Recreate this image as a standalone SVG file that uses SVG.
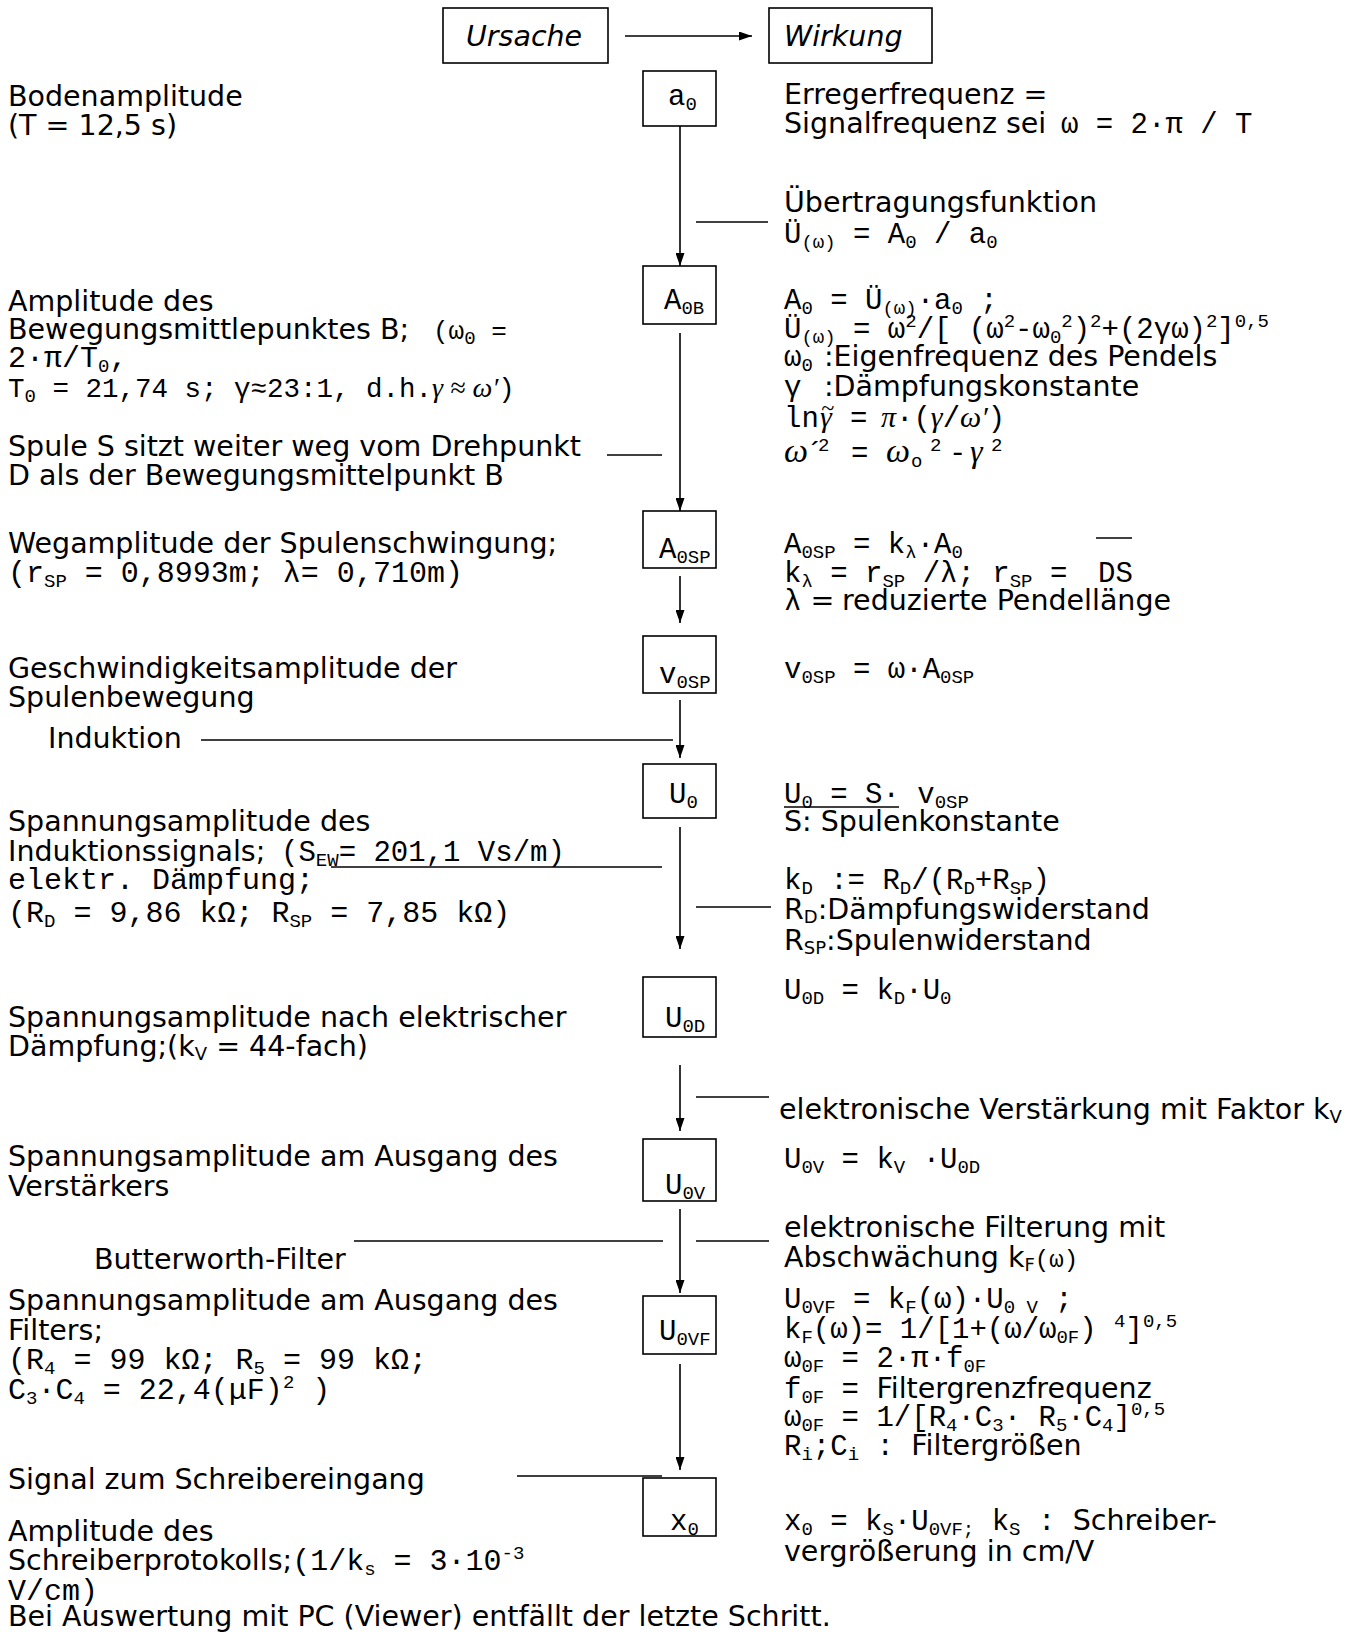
<svg xmlns="http://www.w3.org/2000/svg" width="1349" height="1635" viewBox="0 0 1349 1635" xml:space="preserve">
<style>
.s{font-family:"DejaVu Sans","Liberation Sans",sans-serif;font-size:28.5px;fill:#000}
.m{font-family:"Liberation Mono","Courier New",monospace;font-size:29px;fill:#000}
.ml{font-family:"Liberation Mono","Courier New",monospace;font-size:30px;fill:#000}
.i{font-style:italic}
.b{font-size:19px;baseline-shift:-5px}
.bs{font-size:18px;baseline-shift:-4px}
.p{font-size:19px;baseline-shift:11px}
.g{font-family:"Liberation Serif",serif;font-style:italic}
.box{fill:#fff;stroke:#000;stroke-width:1.6}
.ln{stroke:#000;stroke-width:1.6;fill:none}
</style>
<defs>
<marker id="ah" markerUnits="userSpaceOnUse" markerWidth="13" markerHeight="9" refX="13" refY="4.5" orient="auto"><path d="M0,0 L13,4.5 L0,9 z" fill="#000"/></marker>
</defs>
<g id="connectors">
<line class="ln" x1="625" y1="36" x2="752" y2="36" marker-end="url(#ah)"/>
<line class="ln" x1="680" y1="126" x2="680" y2="266" marker-end="url(#ah)"/>
<line class="ln" x1="680" y1="333" x2="680" y2="511" marker-end="url(#ah)"/>
<line class="ln" x1="680" y1="576" x2="680" y2="623" marker-end="url(#ah)"/>
<line class="ln" x1="680" y1="700" x2="680" y2="758" marker-end="url(#ah)"/>
<line class="ln" x1="680" y1="827" x2="680" y2="949" marker-end="url(#ah)"/>
<line class="ln" x1="680" y1="1065" x2="680" y2="1131" marker-end="url(#ah)"/>
<line class="ln" x1="680" y1="1209" x2="680" y2="1293" marker-end="url(#ah)"/>
<line class="ln" x1="680" y1="1364" x2="680" y2="1470" marker-end="url(#ah)"/>
<line class="ln" x1="696" y1="222" x2="768" y2="222"/>
<line class="ln" x1="607" y1="455" x2="662" y2="455"/>
<line class="ln" x1="201" y1="740" x2="673" y2="740"/>
<line class="ln" x1="331" y1="867" x2="662" y2="867"/>
<line class="ln" x1="696" y1="907" x2="771" y2="907"/>
<line class="ln" x1="696" y1="1097" x2="769" y2="1097"/>
<line class="ln" x1="354" y1="1241" x2="663" y2="1241"/>
<line class="ln" x1="696" y1="1241" x2="769" y2="1241"/>
<line class="ln" x1="517" y1="1476" x2="662" y2="1476"/>
</g>
<g id="node-ursache"><rect class="box" x="443" y="8" width="165" height="55"/><text class="s i" x="466" y="46">Ursache</text></g>
<g id="node-wirkung"><rect class="box" x="769" y="8" width="163" height="55"/><text class="s i" x="784" y="46">Wirkung</text></g>
<g id="node-a0"><rect class="box" x="643" y="71" width="73" height="55"/><text class="m" x="668" y="105">a<tspan class="b">0</tspan></text></g>
<g id="node-A0B"><rect class="box" x="643" y="266" width="73" height="58"/><text class="m" x="664" y="309">A<tspan class="b">0B</tspan></text></g>
<g id="node-A0SP"><rect class="box" x="643" y="511" width="73" height="57"/><text class="m" x="659" y="558">A<tspan class="b">0SP</tspan></text></g>
<g id="node-v0SP"><rect class="box" x="643" y="636" width="73" height="57"/><text class="m" x="659" y="683">v<tspan class="b">0SP</tspan></text></g>
<g id="node-U0"><rect class="box" x="643" y="764" width="73" height="54"/><text class="m" x="669" y="803">U<tspan class="b">0</tspan></text></g>
<g id="node-U0D"><rect class="box" x="643" y="977" width="73" height="60"/><text class="m" x="665" y="1027">U<tspan class="b">0D</tspan></text></g>
<g id="node-U0V"><rect class="box" x="643" y="1139" width="73" height="62"/><text class="m" x="665" y="1194">U<tspan class="b">0V</tspan></text></g>
<g id="node-U0VF"><rect class="box" x="643" y="1296" width="73" height="58"/><text class="m" x="659" y="1340">U<tspan class="b">0VF</tspan></text></g>
<g id="node-x0"><rect class="box" x="643" y="1478" width="73" height="58"/><text class="m" x="670" y="1530">x<tspan class="b">0</tspan></text></g>
<g id="left-texts">
<text class="s" x="8" y="106">Bodenamplitude</text>
<text class="s" x="8" y="135">(T = 12,5 s)</text>
<text class="s" x="8" y="311">Amplitude des</text>
<text x="8" y="339"><tspan class="s">Bewegungsmittlepunktes B;</tspan><tspan class="m" style="font-size:26px" x="433">(ω<tspan class="b">0</tspan> =</tspan></text>
<text class="ml" x="8" y="367">2·π/T<tspan class="b">0</tspan>,</text>
<text class="m" style="font-size:27.5px" x="8" y="397">T<tspan class="b">0</tspan> = 21,74 s; γ≈23:1, d.h.<tspan class="g" style="font-size:28px">γ ≈ ω′</tspan>)</text>
<text class="s" x="8" y="456">Spule S sitzt weiter weg vom Drehpunkt</text>
<text class="s" x="8" y="485">D als der Bewegungsmittelpunkt B</text>
<text class="s" x="8" y="553">Wegamplitude der Spulenschwingung;</text>
<text class="ml" x="8" y="582">(r<tspan class="b">SP</tspan> = 0,8993m; λ= 0,710m)</text>
<text class="s" x="8" y="678">Geschwindigkeitsamplitude der</text>
<text class="s" x="8" y="707">Spulenbewegung</text>
<text class="s" x="48" y="748">Induktion</text>
<text class="s" x="8" y="831">Spannungsamplitude des</text>
<text x="8" y="861"><tspan class="s">Induktionssignals;</tspan><tspan class="m" x="281">(S<tspan class="b">EW</tspan>= 201,1 Vs/m)</tspan></text>
<text class="ml" x="8" y="889">elektr. Dämpfung;</text>
<text class="ml" x="8" y="922">(R<tspan class="b">D</tspan> = 9,86 kΩ; R<tspan class="b">SP</tspan> = 7,85 kΩ)</text>
<text class="s" x="8" y="1027">Spannungsamplitude nach elektrischer</text>
<text class="s" x="8" y="1056">Dämpfung;(k<tspan class="bs">V</tspan> = 44-fach)</text>
<text class="s" x="8" y="1166">Spannungsamplitude am Ausgang des</text>
<text class="s" x="8" y="1196">Verstärkers</text>
<text class="s" x="94" y="1269">Butterworth-Filter</text>
<text class="s" x="8" y="1310">Spannungsamplitude am Ausgang des</text>
<text class="s" x="8" y="1340">Filters;</text>
<text class="ml" x="8" y="1369">(R<tspan class="b">4</tspan> = 99 kΩ; R<tspan class="b">5</tspan> = 99 kΩ;</text>
<text class="ml" x="8" y="1399"> C<tspan class="b">3</tspan>·C<tspan class="b">4</tspan> = 22,4(μF)<tspan class="p">2</tspan> )</text>
<text class="s" x="8" y="1489">Signal zum Schreibereingang</text>
<text class="s" x="8" y="1541">Amplitude des</text>
<text x="8" y="1570"><tspan class="s">Schreiberprotokolls;</tspan><tspan class="ml">(1/k<tspan class="b">s</tspan> = 3·10<tspan class="p">-3</tspan></tspan></text>
<text class="ml" x="8" y="1600">V/cm)</text>
<text class="s" x="8" y="1626">Bei Auswertung mit PC (Viewer) entfällt der letzte Schritt.</text>
</g>
<g id="right-texts">
<text class="s" x="784" y="104">Erregerfrequenz =</text>
<text x="784" y="133"><tspan class="s">Signalfrequenz sei</tspan><tspan class="m" x="1061">ω = 2·π / T</tspan></text>
<text class="s" x="784" y="212">Übertragungsfunktion</text>
<text class="m" x="784" y="243">Ü<tspan class="b">(ω)</tspan> = A<tspan class="b">0</tspan> / a<tspan class="b">0</tspan></text>
<text class="m" x="784" y="309">A<tspan class="b">0</tspan> = Ü<tspan class="b">(ω)</tspan>·a<tspan class="b">0</tspan> ;</text>
<text class="m" x="784" y="338">Ü<tspan class="b">(ω)</tspan> = ω<tspan class="p">2</tspan>/[ (ω<tspan class="p">2</tspan>-ω<tspan class="b">0</tspan><tspan class="p">2</tspan>)<tspan class="p">2</tspan>+(2γω)<tspan class="p">2</tspan>]<tspan class="p">0,5</tspan></text>
<text x="784" y="366"><tspan class="m">ω<tspan class="b">0</tspan></tspan><tspan class="s" x="824">:Eigenfrequenz des Pendels</tspan></text>
<text x="784" y="396"><tspan class="m">γ</tspan><tspan class="s" x="824">:Dämpfungskonstante</tspan></text>
<text x="784" y="427"><tspan class="m">ln</tspan><tspan class="g" font-size="30" x="820">γ</tspan><tspan class="m" x="850">=</tspan><tspan class="g" font-size="30" x="881">π</tspan><tspan class="m">·(</tspan><tspan class="g" font-size="30">γ</tspan><tspan class="m">/</tspan><tspan class="g" font-size="30">ω′</tspan><tspan class="m">)</tspan></text>
<text class="g" x="821" y="416" font-size="24">~</text>
<text x="784" y="462"><tspan class="g" font-size="34">ω</tspan><tspan class="m" x="806">´</tspan><tspan class="m p" x="818">2</tspan><tspan class="m" x="851">=</tspan><tspan class="g" font-size="34" x="886">ω</tspan><tspan class="m b" x="911">o</tspan><tspan class="m p" x="930">2</tspan><tspan class="m" x="949">-</tspan><tspan class="g" font-size="32" x="970">γ</tspan><tspan class="m p" x="991">2</tspan></text>
<text class="m" x="784" y="553">A<tspan class="b">0SP</tspan> = k<tspan class="b">λ</tspan>·A<tspan class="b">0</tspan></text>
<line class="ln" x1="1096" y1="538" x2="1132" y2="538"/>
<text class="m" x="784" y="582">k<tspan class="b">λ</tspan> = r<tspan class="b">SP</tspan> /λ;  r<tspan class="b">SP</tspan> = <tspan x="1098">DS</tspan></text>
<text x="784" y="610"><tspan class="m">λ</tspan><tspan class="s"> =</tspan><tspan class="s" x="842">reduzierte Pendellänge</tspan></text>
<text class="m" x="784" y="678">v<tspan class="b">0SP</tspan> = ω·A<tspan class="b">0SP</tspan></text>
<text class="m" x="784" y="803">U<tspan class="b">0</tspan> = S·  v<tspan class="b">0SP</tspan></text>
<line class="ln" x1="784" y1="807" x2="899" y2="807"/>
<text class="s" x="784" y="831">S: Spulenkonstante</text>
<text class="m" x="784" y="889">k<tspan class="b">D</tspan> := R<tspan class="b">D</tspan>/(R<tspan class="b">D</tspan>+R<tspan class="b">SP</tspan>)</text>
<text class="s" x="784" y="919">R<tspan class="bs">D</tspan>:Dämpfungswiderstand</text>
<text class="s" x="784" y="950">R<tspan class="bs">SP</tspan>:Spulenwiderstand</text>
<text class="m" x="784" y="999">U<tspan class="b">0D</tspan> = k<tspan class="b">D</tspan>·U<tspan class="b">0</tspan></text>
<text class="s" x="779" y="1119">elektronische Verstärkung mit Faktor k<tspan class="bs">V</tspan></text>
<text class="m" x="784" y="1168">U<tspan class="b">0V</tspan> = k<tspan class="b">V</tspan> ·U<tspan class="b">0D</tspan></text>
<text class="s" x="784" y="1237">elektronische Filterung mit</text>
<text class="s" x="784" y="1267">Abschwächung k<tspan class="bs">F</tspan><tspan class="m" style="font-size:24px">(ω)</tspan></text>
<text class="m" x="784" y="1308">U<tspan class="b">0VF</tspan>  = k<tspan class="b">F</tspan>(ω)·U<tspan class="b">0 V</tspan> ;</text>
<text class="m" x="784" y="1338">k<tspan class="b">F</tspan>(ω)= 1/[1+(ω/ω<tspan class="b">0F</tspan>) <tspan class="p">4</tspan>]<tspan class="p">0,5</tspan></text>
<text class="m" x="784" y="1367">ω<tspan class="b">0F</tspan> = 2·π·f<tspan class="b">0F</tspan></text>
<text x="784" y="1398"><tspan class="m">f<tspan class="b">0F</tspan> = </tspan><tspan class="s">Filtergrenzfrequenz</tspan></text>
<text class="m" x="784" y="1426">ω<tspan class="b">0F</tspan> = 1/[R<tspan class="b">4</tspan>·C<tspan class="b">3</tspan>·  R<tspan class="b">5</tspan>·C<tspan class="b">4</tspan>]<tspan class="p">0,5</tspan></text>
<text x="784" y="1455"><tspan class="m">R<tspan class="b">i</tspan>;C<tspan class="b">i</tspan> : </tspan><tspan class="s">Filtergrößen</tspan></text>
<text x="784" y="1530"><tspan class="m">x<tspan class="b">0</tspan> = k<tspan class="b">S</tspan>·U<tspan class="b">0VF;</tspan> k<tspan class="b">S</tspan> : </tspan><tspan class="s">Schreiber-</tspan></text>
<text class="s" x="784" y="1561">vergrößerung in cm/V</text>
</g>
</svg>
